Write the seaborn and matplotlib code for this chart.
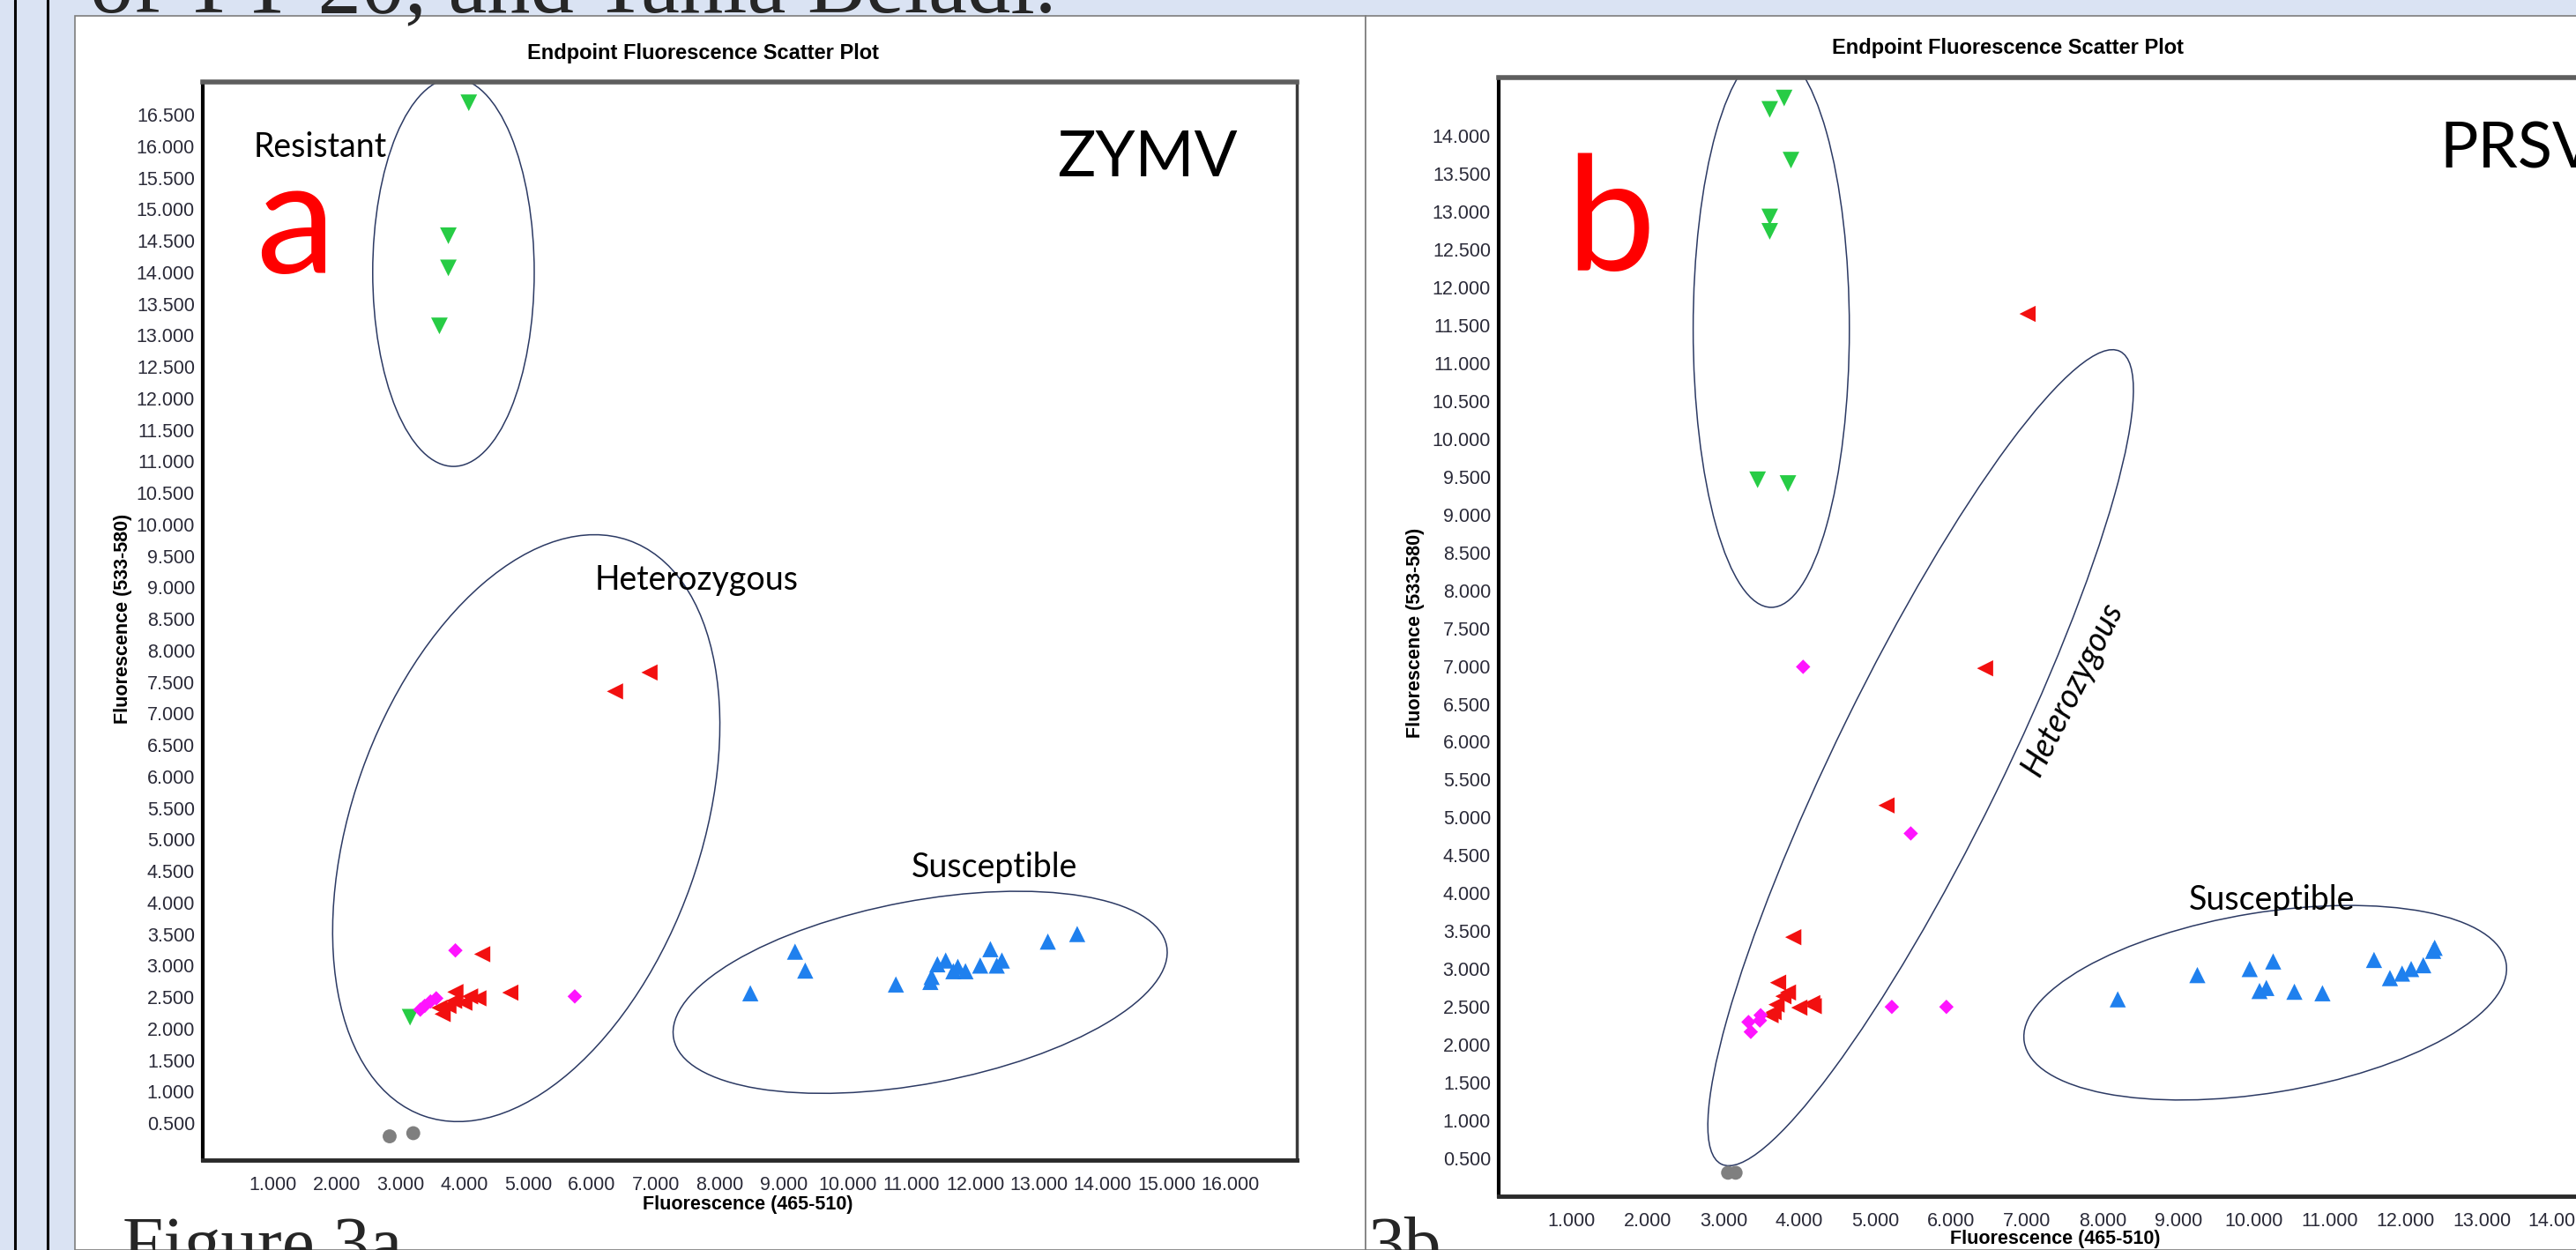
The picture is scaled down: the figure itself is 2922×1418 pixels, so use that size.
import matplotlib
matplotlib.use("Agg")
import matplotlib.pyplot as plt
import numpy as np
import pandas as pd
import seaborn as sns
from matplotlib.lines import Line2D
from matplotlib.patches import Ellipse, Rectangle
from matplotlib.ticker import FixedLocator, FuncFormatter, MultipleLocator

# endpoint fluorescence, in thousands (465-510 on x, 533-580 on y)
# panel a - ZYMV
zymv_resistant_x = [4.07, 3.75, 3.75, 3.61, 3.15]
zymv_resistant_y = [16.69, 14.58, 14.07, 13.15, 2.18]
zymv_het_red_x = [6.36, 6.90, 4.28, 4.72, 3.66, 3.61, 3.75, 3.86, 3.84, 4.00, 4.09, 4.22]
zymv_het_red_y = [7.35, 7.65, 3.18, 2.57, 2.23, 2.33, 2.36, 2.58, 2.44, 2.41, 2.51, 2.48]
zymv_het_mag_x = [3.86, 5.73, 3.31, 3.38, 3.47, 3.56]
zymv_het_mag_y = [3.24, 2.51, 2.30, 2.36, 2.43, 2.48]
zymv_susc_x = [8.48, 9.18, 9.34, 10.76, 11.30, 11.32, 11.41, 11.54, 11.66, 11.73,
               11.85, 12.08, 12.24, 12.34, 12.42, 13.14, 13.60]
zymv_susc_y = [2.56, 3.22, 2.92, 2.70, 2.74, 2.82, 3.02, 3.08, 2.91, 2.98,
               2.91, 3.00, 3.26, 3.00, 3.08, 3.38, 3.50]
zymv_ntc_x = [2.83, 3.20]
zymv_ntc_y = [0.29, 0.34]

# panel b - PRSV
prsv_resistant_x = [3.80, 3.61, 3.89, 3.61, 3.61, 3.45, 3.85]
prsv_resistant_y = [14.50, 14.35, 13.68, 12.93, 12.74, 9.46, 9.41]
prsv_het_red_x = [7.01, 6.45, 5.15, 3.92, 3.72, 3.85, 3.79, 3.70, 3.66, 3.62, 4.00, 4.17, 4.19]
prsv_het_red_y = [11.65, 6.97, 5.16, 3.42, 2.82, 2.69, 2.64, 2.53, 2.43, 2.39, 2.49, 2.55, 2.51]
prsv_het_mag_x = [4.05, 5.47, 5.22, 5.94, 3.33, 3.36, 3.48, 3.49]
prsv_het_mag_y = [6.99, 4.79, 2.50, 2.50, 2.30, 2.17, 2.32, 2.39]
prsv_susc_x = [8.20, 9.25, 9.94, 10.25, 10.07, 10.16, 10.53, 10.90, 11.58, 11.79,
               11.95, 12.07, 12.23, 12.38, 12.36]
prsv_susc_y = [2.60, 2.92, 3.00, 3.10, 2.71, 2.75, 2.70, 2.68, 3.12, 2.88,
               2.94, 3.00, 3.05, 3.28, 3.24]
prsv_ntc_x = [3.06, 3.16]
prsv_ntc_y = [0.31, 0.31]

# tick values
zymv_xticks = list(range(1, 17))
zymv_yticks = [v / 2 for v in range(1, 34)]
prsv_xticks = list(range(1, 16))
prsv_yticks = [v / 2 for v in range(1, 29)]

groups = ["resistant", "het_red", "het_mag", "susceptible", "ntc"]
palette = {"resistant": "#27cc45", "het_red": "#f21010", "het_mag": "#ff14ff",
           "susceptible": "#1f80ee", "ntc": "#7f7f7f"}
markers = {"resistant": "v", "het_red": "<", "het_mag": "D",
           "susceptible": "^", "ntc": "o"}
sizes = {"resistant": 185, "het_red": 175, "het_mag": 70, "susceptible": 175, "ntc": 130}


def frame(pairs):
    rows = []
    for g, (xs, ys) in zip(groups, pairs):
        rows += [(g, x, y) for x, y in zip(xs, ys)]
    return pd.DataFrame(rows, columns=["group", "x", "y"])


df_a = frame([(zymv_resistant_x, zymv_resistant_y), (zymv_het_red_x, zymv_het_red_y),
              (zymv_het_mag_x, zymv_het_mag_y), (zymv_susc_x, zymv_susc_y),
              (zymv_ntc_x, zymv_ntc_y)])
df_b = frame([(prsv_resistant_x, prsv_resistant_y), (prsv_het_red_x, prsv_het_red_y),
              (prsv_het_mag_x, prsv_het_mag_y), (prsv_susc_x, prsv_susc_y),
              (prsv_ntc_x, prsv_ntc_y)])

sns.set_style("white")
plt.rcParams["font.family"] = ["Liberation Sans", "DejaVu Sans"]

W, H = 2922, 1418
fig = plt.figure(figsize=(W / 100, H / 100), dpi=100, facecolor="#dae3f3")


def fx(px):
    return px / W


def fy(py):
    return 1 - py / H


# slide background pieces (behind the axes)
fig.patches.append(Rectangle((fx(85), 0), fx(1549) - fx(85), fy(18), transform=fig.transFigure,
                             facecolor="white", edgecolor="#7d7d7d", lw=1.2, zorder=-2))
fig.patches.append(Rectangle((fx(1549), 0), 1 - fx(1549) + 0.01, fy(18), transform=fig.transFigure,
                             facecolor="white", edgecolor="#7d7d7d", lw=1.2, zorder=-2))
for xp in (17, 54):
    fig.add_artist(Line2D([fx(xp), fx(xp)], [0, 1], color="black", lw=2.2, zorder=-1))

fig.text(fx(102), fy(14), "of TY-20, and Tahla Beladi.", family="Liberation Serif",
         fontsize=71, va="baseline", ha="left")
fig.text(fx(139), fy(1437), "Figure 3a", family="Liberation Serif", fontsize=60,
         va="baseline", ha="left")
fig.text(fx(1552), fy(1437), "3b", family="Liberation Serif", fontsize=60,
         va="baseline", ha="left")


def style_axes(ax, xlim, ylim, xticks, yticks):
    ax.set_xlim(*xlim)
    ax.set_ylim(*ylim)
    ax.xaxis.set_major_locator(FixedLocator(xticks))
    ax.yaxis.set_major_locator(FixedLocator(yticks))
    ax.xaxis.set_minor_locator(MultipleLocator(0.25))
    ax.yaxis.set_minor_locator(MultipleLocator(0.1))
    fmt = FuncFormatter(lambda v, p: f"{v:.3f}")
    ax.xaxis.set_major_formatter(fmt)
    ax.yaxis.set_major_formatter(fmt)
    ax.tick_params(axis="x", which="major", direction="inout", length=10, width=1.3,
                   color="#777777", pad=8, labelsize=15.5, labelcolor="#2a2a38")
    ax.tick_params(axis="x", which="minor", direction="in", length=5, width=1.1, color="#888888")
    ax.tick_params(axis="y", which="major", direction="out", length=5, width=1.3,
                   color="#777777", pad=1.5, labelsize=15.5, labelcolor="#2a2a38")
    ax.tick_params(axis="y", which="minor", direction="out", length=3, width=1.1, color="#999999")
    ax.spines["left"].set(color="black", linewidth=3)
    ax.spines["bottom"].set(color="#2a2a2a", linewidth=3.5)
    ax.spines["top"].set(color="#5e5e5e", linewidth=4)
    ax.spines["right"].set(color="#3a3a3a", linewidth=2.5)
    ax.set_facecolor("white")


def scatter(ax, df):
    sns.scatterplot(data=df, x="x", y="y", hue="group", style="group", size="group",
                    palette=palette, markers=markers, sizes=sizes, linewidth=0,
                    legend=False, ax=ax, zorder=3)


def ring(ax, cx, cy, w, h, ang):
    ax.add_patch(Ellipse((cx, cy), w, h, angle=ang, fill=False, edgecolor="#2c3a64",
                         lw=1.1, zorder=2))


lab = dict(family="Lato", fontsize=27, color="black")
big = dict(family="Lato", fontsize=130, color="#ff0000")
head = dict(family="Lato", fontsize=52, color="black")
bold = dict(family="Liberation Sans", fontweight="bold", color="black")

# panel a
axa = fig.add_axes([fx(230), fy(1316), fx(1471) - fx(230), fy(93) - fy(1316)])
scatter(axa, df_a)
style_axes(axa, (-0.097, 17.04), (-0.087, 17.02), zymv_xticks, zymv_yticks)
ring(axa, 3.83, 14.0, 2.53, 6.16, 0)
ring(axa, 4.97, 5.18, 9.68, 5.46, 70.7)
ring(axa, 11.14, 2.575, 7.86, 2.9, 10.8)
axa.text(0.70, 15.83, "Resistant", va="baseline", **lab)
axa.text(0.73, 13.98, "a", va="baseline", **big)
axa.text(13.29, 15.53, "ZYMV", va="baseline", **head)
axa.text(6.04, 8.96, "Heterozygous", va="baseline", **lab)
axa.text(11.0, 4.41, "Susceptible", va="baseline", **lab)
axa.set_xlabel("Fluorescence (465-510)", fontsize=15.5, va="center", **bold)
axa.xaxis.set_label_coords(0.498, -0.041)
axa.set_ylabel("Fluorescence (533-580)", fontsize=15.5, va="center", **bold)
axa.yaxis.set_label_coords(-0.0733, 0.502)
fig.text(fx(797), fy(61), "Endpoint Fluorescence Scatter Plot", fontsize=17,
         ha="center", va="center", **bold)

# panel b (runs past the right edge of the slide)
axb = fig.add_axes([fx(1700), fy(1357), fx(3030) - fx(1700), fy(88) - fy(1357)])
scatter(axb, df_b)
style_axes(axb, (0.035, 15.5), (0.0, 14.77), prsv_xticks, prsv_yticks)
ring(axb, 3.63, 11.45, 2.06, 7.35, 0)
ring(axb, 5.60, 5.79, 11.95, 2.19, 63.9)
ring(axb, 10.145, 2.555, 6.44, 2.38, 9.3)
axb.text(0.92, 12.22, "b", va="baseline", **big)
axb.text(12.45, 13.58, "PRSV", va="baseline", **head)
axb.text(7.60, 6.69, "Heterozygous", rotation=63.6, ha="center", va="center",
         style="italic", rotation_mode="anchor", **lab)
axb.text(9.14, 3.78, "Susceptible", va="baseline", **lab)
axb.set_xlabel("Fluorescence (465-510)", fontsize=15.5, va="center", **bold)
axb.xaxis.set_label_coords(0.4744, -0.0386)
axb.set_ylabel("Fluorescence (533-580)", fontsize=15.5, va="center", **bold)
axb.yaxis.set_label_coords(-0.0707, 0.5035)
fig.text(fx(2278), fy(54), "Endpoint Fluorescence Scatter Plot", fontsize=17,
         ha="center", va="center", **bold)

fig.savefig("out.png", dpi=100, facecolor=fig.get_facecolor())
